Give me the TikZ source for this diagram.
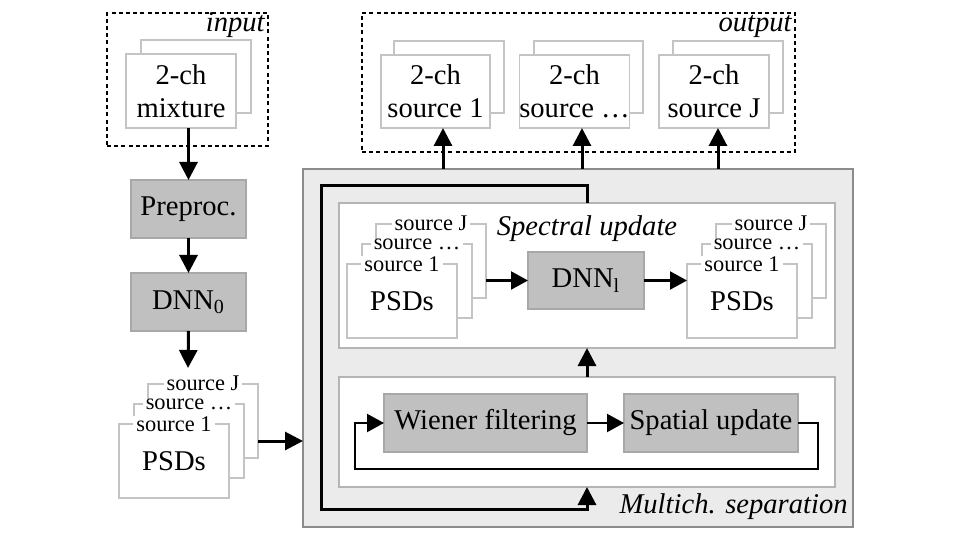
\documentclass[tikz,border=0pt]{standalone}
\usepackage{fontspec}
\setmainfont{Liberation Serif}
\usetikzlibrary{arrows.meta,calc}
\definecolor{blkfill}{HTML}{C0C0C0}
\definecolor{blkline}{HTML}{A8A8A8}
\definecolor{bigfill}{HTML}{EBEBEB}
\definecolor{bigline}{HTML}{8C8C8C}
\definecolor{panelline}{HTML}{B4B4B4}
\definecolor{cardline}{HTML}{C4C4C4}
\newcommand{\fbig}{\fontsize{14.3}{16.5}\selectfont}
\newcommand{\fsmall}{\fontsize{11.2}{12.5}\selectfont}
% style, name, x1, y1, x2, y2, text
\newcommand{\pxbox}[7]{\node[#1, minimum width={((#5)-(#3))*0.5pt}, minimum height={((#6)-(#4))*0.5pt}] (#2) at ({((#3)+(#5))/2},{((#4)+(#6))/2}) {#7};}
% prefix, front-left x, front-top y
\newcommand{\psdstack}[3]{%
  \pxbox{card}{#1b}{#2+29}{#3-40}{#2+139}{#3+34}{}
  \node[stacklbl] at ([yshift=0.6pt]#1b.north) {source J};
  \pxbox{card}{#1m}{#2+15}{#3-20}{#2+125}{#3+54}{}
  \node[stacklbl] at (#1m.north) {source \dots};
  \pxbox{card}{#1f}{#2}{#3}{#2+110}{#3+74}{PSDs}
  \node[stacklbl] at (#1f.north) {source 1};
}
\begin{document}
\begin{tikzpicture}[x=0.5pt,y=-0.5pt,
  box/.style={inner sep=0pt, outer sep=0pt, align=center, font=\fbig},
  block/.style={box, draw=blkline, fill=blkfill, line width=0.6pt},
  card/.style={box, draw=cardline, fill=white, line width=0.6pt},
  panel/.style={box, draw=panelline, fill=white, line width=0.7pt},
  bigpanel/.style={box, draw=bigline, fill=bigfill, line width=0.8pt},
  dashbox/.style={box, draw=black, line width=1pt, dash pattern=on 2pt off 1.6pt},
  stacklbl/.style={fill=white, inner xsep=1.5pt, inner ysep=0pt, font=\fsmall},
  ilabel/.style={font=\fbig\itshape, inner sep=0pt},
  arr/.style={line width=1.5pt, -{Triangle[length=9pt,width=9pt]}},
  tarr/.style={line width=1.1pt, -{Triangle[length=8.5pt,width=9pt]}},
]
\useasboundingbox (0,0) rectangle (960,540);

% input
\pxbox{dashbox}{inbox}{107}{13}{268}{146}{}
\node[ilabel, anchor=base east] (inlbl) at (265,32) {input};
\pxbox{card}{inB}{141}{40}{251}{113}{}
\pxbox{card}{inF}{126}{54}{236}{128}{2-ch\\mixture}

% output
\pxbox{dashbox}{outbox}{362}{13}{795}{152}{}
\node[ilabel, anchor=base east] (outlbl) at (792,32) {output};
\pxbox{card}{oB1}{394}{41}{504}{113}{}
\pxbox{card}{oF1}{381}{55}{490}{128}{2-ch\\source 1}
\pxbox{card}{oB2}{534}{41}{643}{113}{}
\pxbox{card}{oF2}{520}{55}{629}{128}{2-ch\\source \dots}
\pxbox{card}{oB3}{673}{41}{783}{113}{}
\pxbox{card}{oF3}{659}{55}{769}{128}{2-ch\\source J}

% left column
\pxbox{block}{pre}{131}{180}{246}{238}{Preproc.}
\pxbox{block}{dnn0}{131}{273}{246}{331}{DNN\textsubscript{0}}
\coordinate (psdin) at (188,368);
\psdstack{L}{119}{424}

\draw[arr] (pre.north |- inF.south) -- (pre.north);
\draw[arr] (pre.south) -- (dnn0.north);
\draw[arr] (dnn0.south) -- (psdin);

% big panel
\pxbox{bigpanel}{big}{303}{169}{853}{527}{}
\node[ilabel, anchor=base east] (mlbl) at (848,513) {Multich. separation};
\pxbox{panel}{spec}{339}{203}{835}{348}{}
\pxbox{panel}{spat}{339}{377}{835}{487}{}
\node[ilabel, anchor=base] (slbl) at (587,235) {Spectral update};

\draw[arr] (Lb.east |- 0,441) -- (big.west |- 0,441);

% spectral update
\psdstack{A}{347}{264}
\psdstack{B}{687}{264}
\pxbox{block}{dnnl}{528}{252}{644}{309}{DNN\textsubscript{l}}
\draw[tarr] (Ab.east |- dnnl.west) -- (dnnl.west);
\draw[tarr] (dnnl.east) -- (Bf.west |- dnnl.east);

% spatial
\pxbox{block}{wf}{384}{394}{587}{452}{Wiener filtering}
\pxbox{block}{su}{624}{394}{798}{452}{Spatial update}
\draw[tarr] (wf.east) -- (su.west);
\draw[tarr] (su.east) -- (818,423) |- (355,469) |- (wf.west);

\draw[arr] (spat.north -| 587,0) -- (spec.south -| 587,0);

% feedback
\draw[arr] (spec.north -| 587,0) |- (321,186) |- (587,509) -- (spat.south -| 587,0);

% outputs
\draw[arr] (big.north -| 443,0) -- (oF1.south -| 443,0);
\draw[arr] (big.north -| 582,0) -- (oF2.south -| 582,0);
\draw[arr] (big.north -| 718,0) -- (oF3.south -| 718,0);
\end{tikzpicture}
\end{document}
